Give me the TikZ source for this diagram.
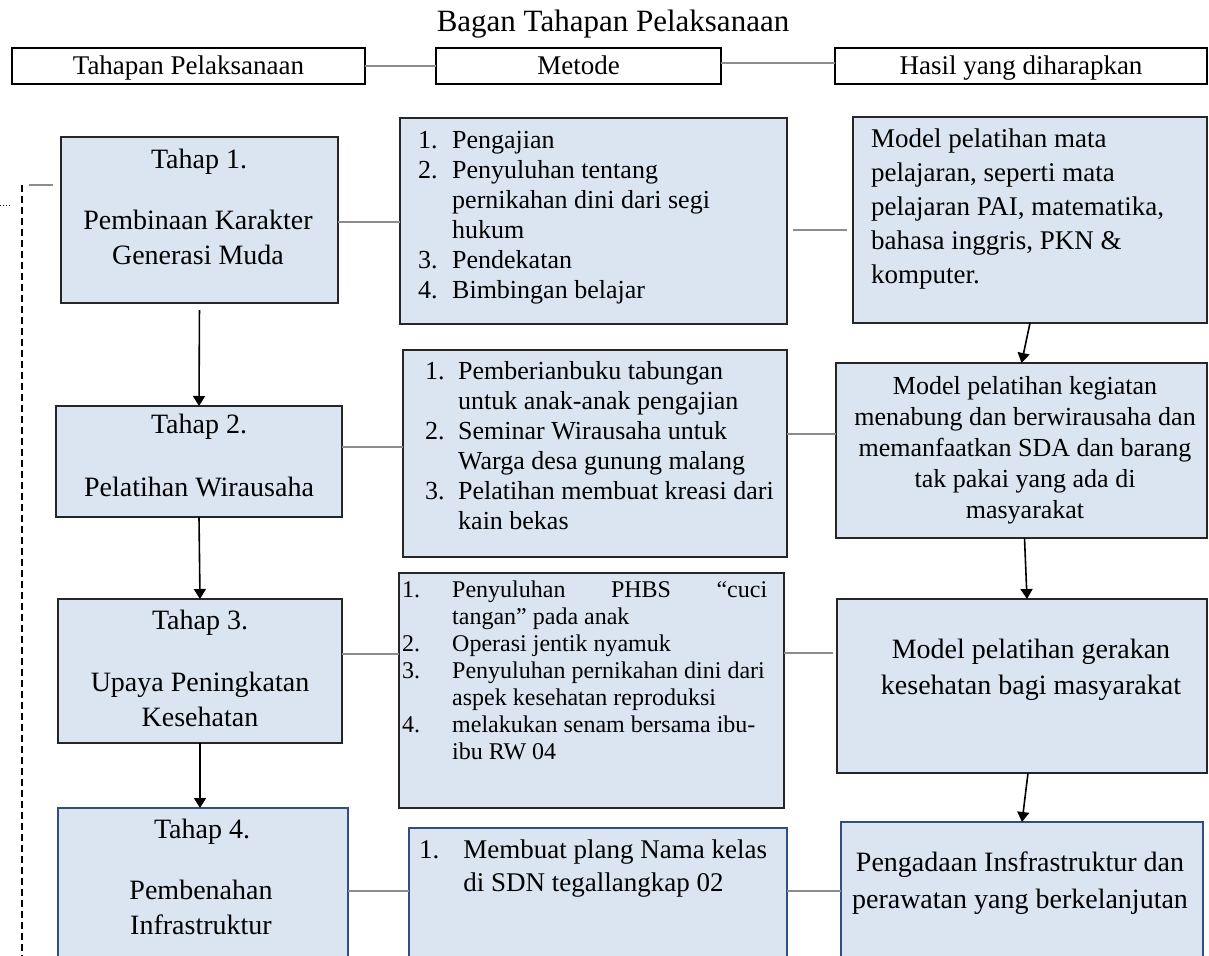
\documentclass[tikz,border=0pt]{standalone}
\usepackage{fontspec}
\setmainfont{Liberation Serif}
\usetikzlibrary{arrows.meta}

\definecolor{isian}{HTML}{DBE4F1}
\definecolor{garis}{HTML}{262626}
\definecolor{biru}{HTML}{2F4E85}
\definecolor{abu}{HTML}{8C8C8C}

\tikzset{
  kotak/.style={draw=garis, fill=isian, line width=1.6pt, inner sep=0pt, outer sep=0pt},
  kotakbiru/.style={kotak, draw=biru},
  kepala/.style={draw=black, fill=white, line width=1.6pt, inner sep=0pt, outer sep=0pt,
    minimum height=36pt, text height=21pt, text depth=4pt, font=\fontsize{27}{32}\selectfont},
  judul/.style={font=\fontsize{31}{37}\selectfont},
  tahapteks/.style={align=center, inner sep=0pt, font=\fontsize{28}{35}\selectfont},
  daftar/.style={anchor=west, inner sep=0pt, font=\fontsize{26}{30}\selectfont},
  hasilteks/.style={align=center, inner sep=0pt, font=\fontsize{26}{31}\selectfont},
  hubung/.style={draw=abu, line width=1.8pt},
  panah/.style={draw=black, line width=1.6pt, -{Triangle[width=12pt,length=10pt]}}
}

\begin{document}
\begin{tikzpicture}[x=1pt, y=-1pt]
        \clip (0,0) rectangle (1209,955);

        \node[judul] (judul) at (613,24) {Bagan Tahapan Pelaksanaan};

        \node[kepala, minimum width=353pt] (kepala1) at (188.5,66) {Tahapan Pelaksanaan};
        \node[kepala, minimum width=285pt] (kepala2) at (578.5,66) {Metode};
        \node[kepala, minimum width=372pt] (kepala3) at (1021,66) {Hasil yang diharapkan};

        \node[kotak, minimum width=277pt, minimum height=166pt] (tahap1) at (199.5,220) {};
        \node[kotak, minimum width=387pt, minimum height=206pt] (metode1) at (593.5,221) {};
        \node[kotak, minimum width=354pt, minimum height=206pt] (hasil1) at (1030,220) {};

        \node[kotak, minimum width=286pt, minimum height=111pt] (tahap2) at (199,461.5) {};
        \node[kotak, minimum width=384pt, minimum height=207pt] (metode2) at (595,453.5) {};
        \node[kotak, minimum width=371pt, minimum height=175pt] (hasil2) at (1021.5,450.5) {};

        \node[kotak, minimum width=284pt, minimum height=144pt] (tahap3) at (200,671) {};
        \node[kotak, minimum width=385pt, minimum height=235pt] (metode3) at (591.5,690.5) {};
        \node[kotak, minimum width=370pt, minimum height=174pt] (hasil3) at (1022,686) {};

        \node[kotakbiru, minimum width=290pt, minimum height=162pt] (tahap4) at (203,889) {};
        \node[kotakbiru, minimum width=378pt, minimum height=142pt] (metode4) at (598,899) {};
        \node[kotakbiru, minimum width=362pt, minimum height=148pt] (hasil4) at (1022,896) {};

        \node[tahapteks] (t1a) at (199,162) {Tahap 1.};
        \node[tahapteks] (t1b) at (198,237.5) {Pembinaan Karakter\\Generasi Muda};
        \node[tahapteks] (t2a) at (199,427) {Tahap 2.};
        \node[tahapteks] (t2b) at (199,487) {Pelatihan Wirausaha};
        \node[tahapteks] (t3a) at (200,623) {Tahap 3.};
        \node[tahapteks] (t3b) at (200,699.5) {Upaya Peningkatan\\Kesehatan};
        \node[tahapteks] (t4a) at (202,832) {Tahap 4.};
        \node[tahapteks] (t4b) at (201,907.5) {Pembenahan\\Infrastruktur};

        \node[daftar] (m1) at (418,217) {\begin{tabular}{@{}l@{\hspace{14.5pt}}l@{}}
          1. & Pengajian\\
          2. & Penyuluhan tentang\\
             & pernikahan dini dari segi\\
             & hukum\\
          3. & Pendekatan\\
          4. & Bimbingan belajar
        \end{tabular}};
        \node[daftar] (m2) at (425,448) {\begin{tabular}{@{}l@{\hspace{13.5pt}}l@{}}
          1. & Pemberianbuku tabungan\\
             & untuk anak-anak pengajian\\
          2. & Seminar Wirausaha untuk\\
             & Warga desa gunung malang\\
          3. & Pelatihan membuat kreasi dari\\
             & kain bekas
        \end{tabular}};
        \node[daftar, font=\fontsize{24}{27}\selectfont] (m3) at (402,673) {\begin{tabular}{@{}p{50pt}@{}l@{}}
          1. & \makebox[315pt][s]{Penyuluhan PHBS “cuci}\\
             & tangan” pada anak\\
          2. & Operasi jentik nyamuk\\
          3. & Penyuluhan pernikahan dini dari\\
             & aspek kesehatan reproduksi\\
          4. & melakukan senam bersama ibu-\\
             & ibu RW 04
        \end{tabular}};
        \node[daftar, font=\fontsize{27}{33}\selectfont] (m4) at (419,868.5) {\begin{tabular}{@{}l@{\hspace{24pt}}l@{}}
          1. & Membuat plang Nama kelas\\
             & di SDN tegallangkap 02
        \end{tabular}};

        \node[hasilteks, anchor=west, align=left, font=\fontsize{27}{34}\selectfont] (h1) at (871,209)
          {Model pelatihan mata\\pelajaran, seperti mata\\pelajaran PAI, matematika,\\bahasa inggris, PKN \&\\komputer.};
        \node[hasilteks] (h2) at (1025,450.5)
          {Model pelatihan kegiatan\\menabung dan berwirausaha dan\\memanfaatkan SDA dan barang\\tak pakai yang ada di\\masyarakat};
        \node[hasilteks, font=\fontsize{28}{36}\selectfont] (h3) at (1031,670)
          {Model pelatihan gerakan\\kesehatan bagi masyarakat};
        \node[hasilteks, font=\fontsize{28}{37}\selectfont] (h4) at (1020,883.5)
          {Pengadaan Insfrastruktur dan\\perawatan yang berkelanjutan};

        \path[hubung]
        (kepala1.east) edge (kepala2.west)
        ([yshift=3pt]kepala2.east) edge ([yshift=3pt]kepala3.west)
        ([yshift=-2pt]tahap1.east) edge ([yshift=-1pt]metode1.west)
        ([yshift=-9pt]metode1.east) edge [shorten <=6pt, shorten >=6pt] ([yshift=-10pt]hasil1.west)
        ([yshift=14.5pt]tahap2.east) edge ([yshift=6.5pt]metode2.west)
        ([yshift=19.5pt]metode2.east) edge ([yshift=16.5pt]hasil2.west)
        ([yshift=17pt]tahap3.east) edge ([yshift=36.5pt]metode3.west)
        ([yshift=37.5pt]metode3.east) edge [shorten >=4pt] ([yshift=33pt]hasil3.west)
        ([yshift=-2pt]tahap4.east) edge ([yshift=8pt]metode4.west)
        ([yshift=8pt]metode4.east) edge ([yshift=5pt]hasil4.west);

        \path
        (tahap1.south) edge [panah, shorten <=7pt] (tahap2.north)
        (tahap2.south) edge [panah] (tahap3.north)
        (tahap3.south) edge [panah] (tahap3.south |- tahap4.north)
        (hasil1.south) edge [panah] (hasil2.north)
        ([xshift=3pt]hasil2.south) edge [panah] ([xshift=5pt]hasil3.north)
        ([xshift=6pt]hasil3.south) edge [panah] (hasil4.north);

        \coordinate (umpanatas) at (22,185);
        \coordinate (umpanbawah) at (22,960);
        \coordinate (ujungkiri) at (29,185);
        \coordinate (ujungkanan) at (53,185);
        \coordinate (titikkiri) at (0,205);
        \coordinate (titikkanan) at (12,205);
        \draw[line width=1.2pt, dash pattern=on 7pt off 4pt] (umpanatas) -- (umpanbawah);
        \draw[hubung, line width=1.4pt] (ujungkiri) -- (ujungkanan);
        \draw[line width=1pt, dotted] (titikkiri) -- (titikkanan);
\end{tikzpicture}
\end{document}
